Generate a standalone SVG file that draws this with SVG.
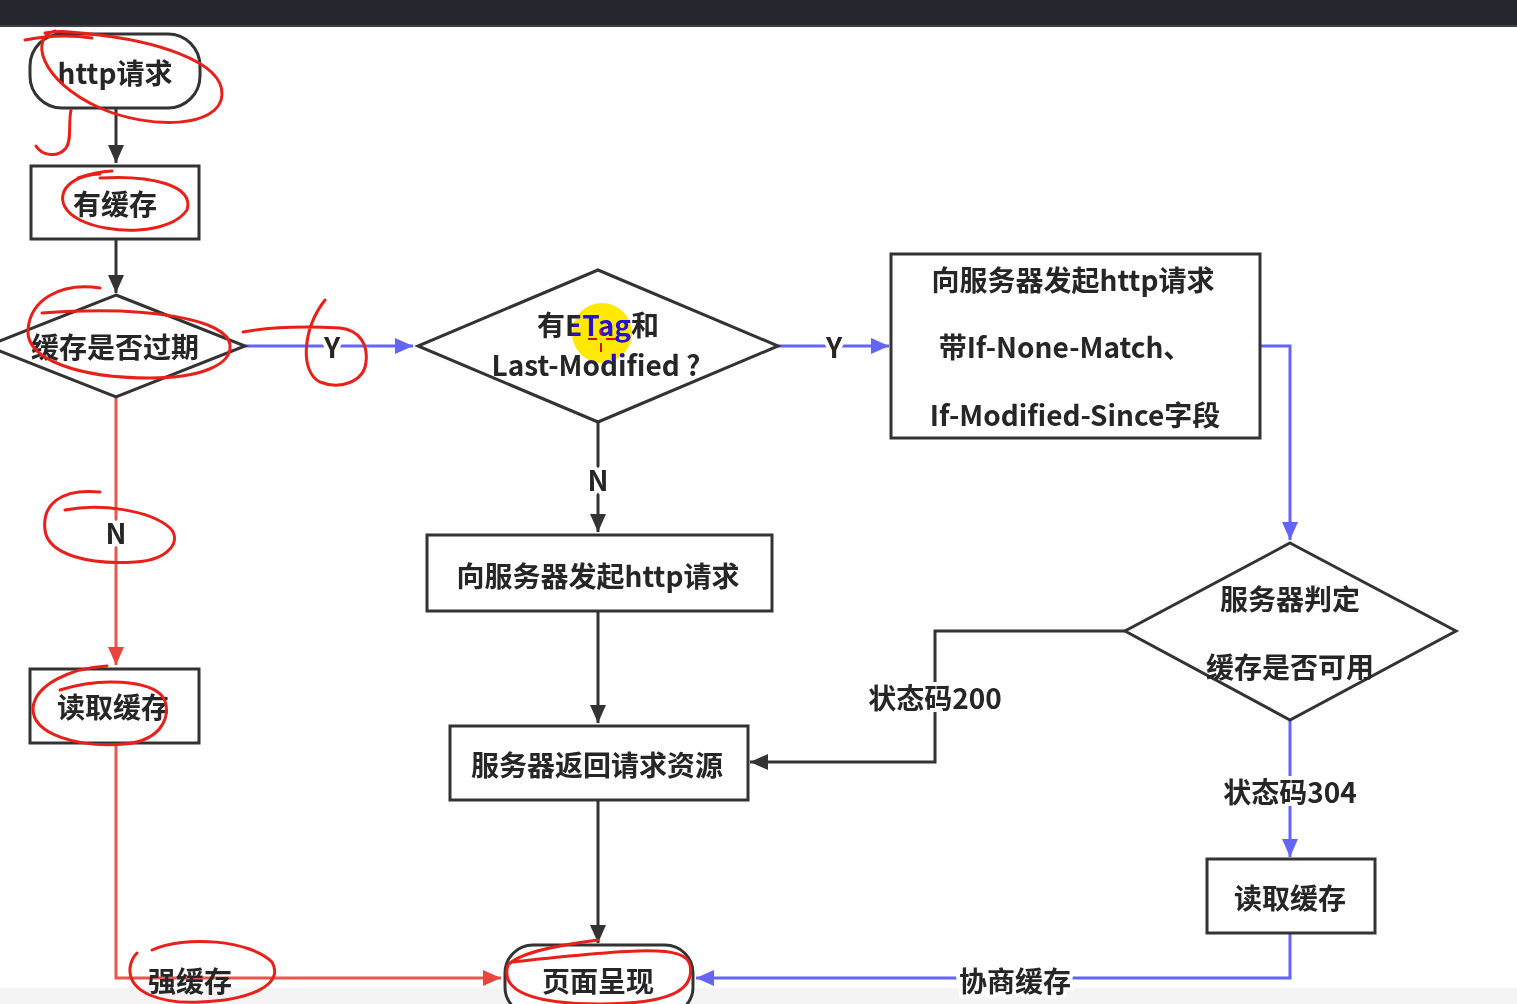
<svg xmlns="http://www.w3.org/2000/svg" width="1517" height="1004" viewBox="0 0 1517 1004">
<style>
.node{fill:#fff;stroke:#333;stroke-width:3}
.t{font-family:"Noto Sans CJK SC","Liberation Sans",sans-serif;font-weight:700;font-size:28px;fill:#262626;text-anchor:middle;dominant-baseline:central}
.lbl{stroke:#fff;stroke-width:8;paint-order:stroke;stroke-linejoin:round}
.k{fill:none;stroke:#333;stroke-width:3}
.b{fill:none;stroke:#6464f5;stroke-width:3}
.r{fill:none;stroke:#e8574c;stroke-width:3}
.ink{fill:none;stroke:#e8201a;stroke-width:3;stroke-linecap:round;stroke-linejoin:round}
</style>
<defs>
<marker id="ak" markerUnits="userSpaceOnUse" markerWidth="18" markerHeight="16" refX="18" refY="8" orient="auto"><path d="M0,0 L18,8 L0,16 z" fill="#333"/></marker>
<marker id="ab" markerUnits="userSpaceOnUse" markerWidth="18" markerHeight="16" refX="18" refY="8" orient="auto"><path d="M0,0 L18,8 L0,16 z" fill="#6464f5"/></marker>
<marker id="ar" markerUnits="userSpaceOnUse" markerWidth="18" markerHeight="16" refX="18" refY="8" orient="auto"><path d="M0,0 L18,8 L0,16 z" fill="#e8453c"/></marker>
</defs>
<rect x="0" y="0" width="1517" height="1004" fill="#fff"/>
<rect x="0" y="988" width="1517" height="16" fill="#f4f4f4"/>
<rect x="0" y="0" width="1517" height="26" fill="#23262d"/>
<rect x="0" y="25" width="1517" height="2" fill="#3c3f45"/>

<g id="connectors">
<path class="k" d="M116,108 V163" marker-end="url(#ak)"/>
<path class="k" d="M116,239 V293" marker-end="url(#ak)"/>
<path class="b" d="M245,346 H413" marker-end="url(#ab)"/>
<path class="b" d="M778,346 H889" marker-end="url(#ab)"/>
<path class="b" d="M1260,346 H1290 V540" marker-end="url(#ab)"/>
<path class="k" d="M598,422 V532" marker-end="url(#ak)"/>
<path class="k" d="M598,611 V723" marker-end="url(#ak)"/>
<path class="k" d="M1125,631 H935 V762 H750" marker-end="url(#ak)"/>
<path class="b" d="M1290,720 V857" marker-end="url(#ab)"/>
<path class="b" d="M1290,933 V978 H696" marker-end="url(#ab)"/>
<path class="k" d="M598,800 V943" marker-end="url(#ak)"/>
<path class="r" d="M116,397 V665" marker-end="url(#ar)"/>
<path class="r" d="M116,743 V978 H501" marker-end="url(#ar)"/>
<text class="t lbl" x="332" y="346">Y</text>
<text class="t lbl" x="834" y="346">Y</text>
<text class="t lbl" x="598" y="479">N</text>
<text class="t lbl" x="116" y="532">N</text>
<text class="t lbl" x="935" y="697">状态码200</text>
<text class="t lbl" x="1290" y="791">状态码304</text>
<text class="t lbl" x="1015" y="980">协商缓存</text>
<text class="t" x="190" y="980">强缓存</text>
</g>

<g id="n-http"><rect class="node" x="30" y="34" width="170" height="74" rx="32"/><text class="t" x="115" y="72">http请求</text></g>
<g id="n-hascache"><rect class="node" x="31" y="166" width="168" height="73"/><text class="t" x="115" y="203">有缓存</text></g>
<g id="n-expired"><polygon class="node" points="116,295 245,346 116,397 -13,346"/><text class="t" x="115" y="346">缓存是否过期</text></g>
<g id="n-etag"><polygon class="node" points="598,270 778,346 598,422 418,346"/><text class="t" x="598" y="324">有ETag和</text><text class="t" x="596" y="364">Last-Modified ?</text></g>
<g id="n-req2"><rect class="node" x="891" y="254" width="369" height="184"/><text class="t" x="1073" y="279">向服务器发起http请求</text><text class="t" x="1065" y="346">带If-None-Match、</text><text class="t" x="1075" y="414">If-Modified-Since字段</text></g>
<g id="n-judge"><polygon class="node" points="1290,543 1456,631 1290,720 1125,631"/><text class="t" x="1290" y="598">服务器判定</text><text class="t" x="1290" y="666">缓存是否可用</text></g>
<g id="n-req1"><rect class="node" x="427" y="535" width="345" height="76"/><text class="t" x="598" y="575">向服务器发起http请求</text></g>
<g id="n-return"><rect class="node" x="450" y="726" width="298" height="74"/><text class="t" x="597" y="764">服务器返回请求资源</text></g>
<g id="n-read-l"><rect class="node" x="30" y="669" width="169" height="74"/><text class="t" x="113" y="706">读取缓存</text></g>
<g id="n-read-r"><rect class="node" x="1207" y="859" width="168" height="74"/><text class="t" x="1290" y="897">读取缓存</text></g>
<g id="n-page"><rect class="node" x="505" y="945" width="188" height="70" rx="28"/><text class="t" x="598" y="980">页面呈现</text></g>

<g id="cursor">
<circle cx="602" cy="333" r="30" fill="rgb(0,22,255)" style="mix-blend-mode:difference"/>
<path d="M588,339 H597 M606,339 H616 M601,330 V335 M601,343 V352" stroke="#d01010" stroke-width="2" fill="none"/>
</g>

<g id="annotations">
<path class="ink" d="M25,40 Q60,33 92,38 M55,31 C30,36 38,80 100,108 C150,130 220,128 222,95 C224,60 150,40 90,34 C70,32 60,30 45,33"/>
<path class="ink" d="M71,110 C68,125 72,140 66,148 C58,158 42,156 36,146"/>
<path class="ink" d="M78,178 Q95,172 112,171 M100,174 C60,176 50,205 80,220 C110,235 170,235 187,210 C195,185 150,175 100,178"/>
<path class="ink" d="M100,288 C60,282 30,300 28,330 C26,360 80,378 150,378 C200,378 232,365 230,345 C228,320 150,305 42,313"/>
<path class="ink" d="M243,332 C270,327 300,326 340,328 C360,330 368,345 366,362 C364,382 340,390 320,382 C300,372 302,330 325,300"/>
<path class="ink" d="M100,492 C60,488 42,505 45,530 C48,555 90,565 135,562 C170,560 182,540 170,528 C150,510 100,503 65,510"/>
<path class="ink" d="M107,666 C70,668 35,685 33,708 C32,735 80,748 125,744 C165,740 172,712 163,697 C150,680 100,677 60,690"/>
<path class="ink" d="M152,950 C185,935 250,940 272,962 C285,985 250,1000 200,1002 C160,1004 128,992 130,968 C131,960 134,956 137,953"/>
<path class="ink" d="M598,940 C560,945 520,952 508,965 C500,990 530,1004 600,1004 C670,1004 695,990 690,965 C685,945 640,948 512,962"/>
</g>
</svg>
